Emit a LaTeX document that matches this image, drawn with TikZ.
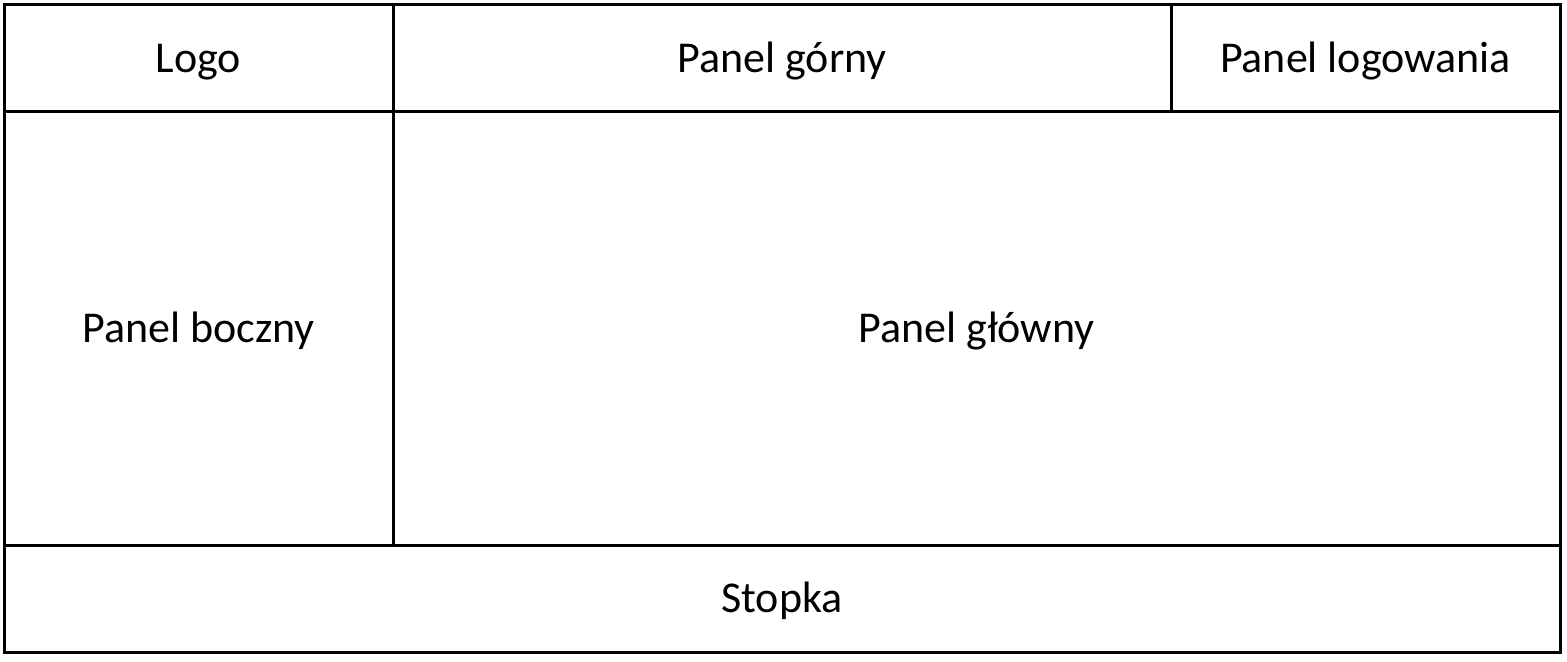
\documentclass[tikz,border=0pt]{standalone}
\usepackage{fontspec}
\setmainfont{Carlito}
\usetikzlibrary{positioning}

\begin{document}
\begin{tikzpicture}[
  font=\fontsize{22}{26}\selectfont,
  panel/.style={draw,line width=1.5pt,outer sep=0pt,inner sep=0pt,align=center,
    text height=14pt,text depth=0pt},
  row/.style={minimum height=53.5pt},
  mid/.style={minimum height=216.5pt},
]
\useasboundingbox (0,0) rectangle (783.5pt,-331pt);

% top row
\node[panel,row,minimum width=194.5pt,anchor=north west] (logo) at (2pt,-2.5pt) {Logo};
\node[panel,row,minimum width=389pt,right=0pt of logo] (gorny) {Panel górny};
\node[panel,row,minimum width=194.5pt,right=0pt of gorny] (logowanie) {Panel logowania};

% middle row
\node[panel,mid,minimum width=194.5pt,below=0pt of logo] (boczny) {Panel boczny};
\node[panel,mid,minimum width=583.5pt,right=0pt of boczny] (glowny) {Panel główny};

% footer
\node[panel,row,minimum width=778pt,anchor=north west] (stopka) at (boczny.south west) {Stopka};
\end{tikzpicture}
\end{document}
